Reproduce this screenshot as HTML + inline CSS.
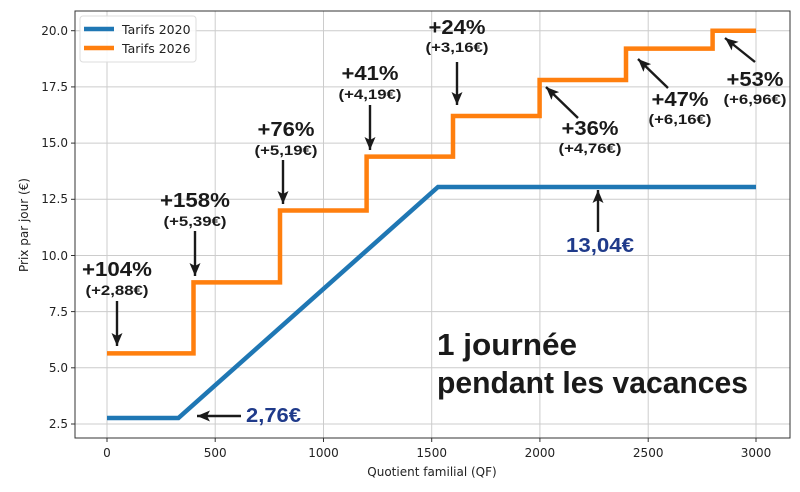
<!DOCTYPE html>
<html><head><meta charset="utf-8"><style>body{margin:0;background:#fff}svg{display:block}</style></head><body>
<svg width="800" height="492" viewBox="0 0 800 492" xmlns="http://www.w3.org/2000/svg" font-family="DejaVu Sans, Liberation Sans, sans-serif">
<defs><marker id="ah" markerWidth="14" markerHeight="12" refX="13" refY="5.5" orient="auto" markerUnits="userSpaceOnUse"><path d="M0,0 L13,5.5 L0,11 L3,5.5 Z" fill="#1a1a1a"/></marker></defs>
<g stroke="#cccccc" stroke-width="1">
<line x1="107" y1="11" x2="107" y2="438"/><line x1="215.2" y1="11" x2="215.2" y2="438"/><line x1="323.5" y1="11" x2="323.5" y2="438"/><line x1="431.7" y1="11" x2="431.7" y2="438"/><line x1="539.9" y1="11" x2="539.9" y2="438"/><line x1="648.2" y1="11" x2="648.2" y2="438"/><line x1="756" y1="11" x2="756" y2="438"/>
<line x1="75" y1="424" x2="790" y2="424"/><line x1="75" y1="367.8" x2="790" y2="367.8"/><line x1="75" y1="311.6" x2="790" y2="311.6"/><line x1="75" y1="255.5" x2="790" y2="255.5"/><line x1="75" y1="199.3" x2="790" y2="199.3"/><line x1="75" y1="143.1" x2="790" y2="143.1"/><line x1="75" y1="86.9" x2="790" y2="86.9"/><line x1="75" y1="30.7" x2="790" y2="30.7"/>
</g>
<rect x="75" y="11" width="715" height="427" fill="none" stroke="#333" stroke-width="1"/>
<g stroke="#333" stroke-width="1">
<line x1="107" y1="438" x2="107" y2="442"/><line x1="215.2" y1="438" x2="215.2" y2="442"/><line x1="323.5" y1="438" x2="323.5" y2="442"/><line x1="431.7" y1="438" x2="431.7" y2="442"/><line x1="539.9" y1="438" x2="539.9" y2="442"/><line x1="648.2" y1="438" x2="648.2" y2="442"/><line x1="756" y1="438" x2="756" y2="442"/>
<line x1="71" y1="424" x2="75" y2="424"/><line x1="71" y1="367.8" x2="75" y2="367.8"/><line x1="71" y1="311.6" x2="75" y2="311.6"/><line x1="71" y1="255.5" x2="75" y2="255.5"/><line x1="71" y1="199.3" x2="75" y2="199.3"/><line x1="71" y1="143.1" x2="75" y2="143.1"/><line x1="71" y1="86.9" x2="75" y2="86.9"/><line x1="71" y1="30.7" x2="75" y2="30.7"/>
</g>
<g font-size="12" fill="#222" text-anchor="middle">
<text x="107" y="457">0</text><text x="215.2" y="457">500</text><text x="323.5" y="457">1000</text><text x="431.7" y="457">1500</text><text x="539.9" y="457">2000</text><text x="648.2" y="457">2500</text><text x="756" y="457">3000</text>
<text x="432" y="476">Quotient familial (QF)</text>
</g>
<g font-size="12" fill="#222" text-anchor="end">
<text x="68" y="428">2.5</text><text x="68" y="372">5.0</text><text x="68" y="316">7.5</text><text x="68" y="260">10.0</text><text x="68" y="203">12.5</text><text x="68" y="147">15.0</text><text x="68" y="91">17.5</text><text x="68" y="35">20.0</text>
</g>
<text transform="translate(28,225) rotate(-90)" font-size="12" fill="#222" text-anchor="middle">Prix par jour (€)</text>
<polyline fill="none" stroke="#1f77b4" stroke-width="4.5" points="107,418 178.4,418 438,187 756,187"/>
<polyline fill="none" stroke="#ff7f0e" stroke-width="4.5" points="107,353.4 193.5,353.4 193.5,282.4 280,282.4 280,210.5 366.6,210.5 366.6,156.6 453,156.6 453,116 539.6,116 539.6,80 626,80 626,48.6 712.6,48.6 712.6,30.7 756,30.7"/>
<rect x="80" y="16" width="116" height="46" rx="3" fill="#fff" fill-opacity="0.85" stroke="#ddd"/>
<line x1="84" y1="29" x2="114" y2="29" stroke="#1f77b4" stroke-width="4.5"/><text x="122" y="34" font-size="12.5" fill="#222">Tarifs 2020</text>
<line x1="84" y1="48" x2="114" y2="48" stroke="#ff7f0e" stroke-width="4.5"/><text x="122" y="53" font-size="12.5" fill="#222">Tarifs 2026</text>
<g stroke="#1a1a1a" stroke-width="2.4" marker-end="url(#ah)">
<line x1="117" y1="301" x2="117" y2="346"/>
<line x1="195" y1="231" x2="195" y2="276"/>
<line x1="283" y1="160" x2="283" y2="204"/>
<line x1="370" y1="105" x2="370" y2="150"/>
<line x1="457" y1="62" x2="457" y2="105"/>
<line x1="578" y1="118" x2="546" y2="87"/>
<line x1="668" y1="88" x2="638" y2="59"/>
<line x1="755" y1="62" x2="725" y2="38"/>
<line x1="598" y1="232" x2="598" y2="190"/>
<line x1="241" y1="416" x2="197" y2="416"/>
</g>
<g font-family="Liberation Sans, sans-serif" font-weight="bold" fill="#1a1a1a" text-anchor="middle" lengthAdjust="spacingAndGlyphs">
<g font-size="20"><text x="117" y="276" textLength="70" lengthAdjust="spacingAndGlyphs">+104%</text><text x="195" y="207" textLength="70" lengthAdjust="spacingAndGlyphs">+158%</text><text x="286" y="136" textLength="57" lengthAdjust="spacingAndGlyphs">+76%</text><text x="370" y="80" textLength="57" lengthAdjust="spacingAndGlyphs">+41%</text><text x="457" y="34" textLength="57" lengthAdjust="spacingAndGlyphs">+24%</text><text x="590" y="135" textLength="57" lengthAdjust="spacingAndGlyphs">+36%</text><text x="680" y="106" textLength="57" lengthAdjust="spacingAndGlyphs">+47%</text><text x="755" y="86" textLength="57" lengthAdjust="spacingAndGlyphs">+53%</text></g>
<g font-size="14"><text x="117" y="295" textLength="63" lengthAdjust="spacingAndGlyphs">(+2,88€)</text><text x="195" y="226" textLength="63" lengthAdjust="spacingAndGlyphs">(+5,39€)</text><text x="286" y="155" textLength="63" lengthAdjust="spacingAndGlyphs">(+5,19€)</text><text x="370" y="99" textLength="63" lengthAdjust="spacingAndGlyphs">(+4,19€)</text><text x="457" y="52" textLength="63" lengthAdjust="spacingAndGlyphs">(+3,16€)</text><text x="590" y="153" textLength="63" lengthAdjust="spacingAndGlyphs">(+4,76€)</text><text x="680" y="124" textLength="63" lengthAdjust="spacingAndGlyphs">(+6,16€)</text><text x="755" y="104" textLength="63" lengthAdjust="spacingAndGlyphs">(+6,96€)</text></g>
<text x="600" y="252" font-size="20" fill="#1f3a8a" textLength="68" lengthAdjust="spacingAndGlyphs">13,04€</text>
<text x="246" y="422" font-size="20" fill="#1f3a8a" text-anchor="start" textLength="55" lengthAdjust="spacingAndGlyphs">2,76€</text>
<g font-size="31" text-anchor="start"><text x="437" y="355" textLength="140" lengthAdjust="spacingAndGlyphs">1 journée</text><text x="437" y="393" textLength="311" lengthAdjust="spacingAndGlyphs">pendant les vacances</text></g>
</g>
</svg>
</body></html>
